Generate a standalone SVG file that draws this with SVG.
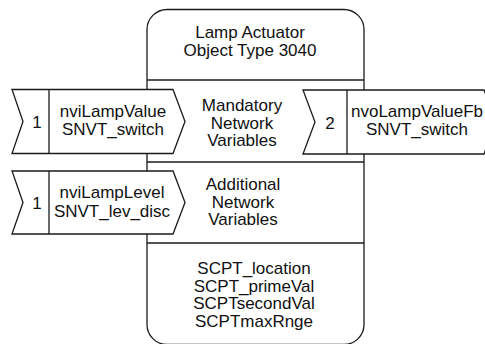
<svg xmlns="http://www.w3.org/2000/svg" width="485" height="344" viewBox="0 0 485 344">
<style>
.ln{fill:none;stroke:#1a1a1a;stroke-width:1.3}
.fl{fill:#fff;stroke:#1a1a1a;stroke-width:1.3;stroke-linejoin:miter}
text{font-family:"Liberation Sans",Arial,sans-serif;font-size:17px;fill:#111;text-anchor:middle}
</style>
<g id="object">
<rect class="ln" x="147" y="9.5" width="217" height="335" rx="20" ry="20" fill="#fff"/>
<line class="ln" x1="147" y1="80" x2="364" y2="80"/>
<line class="ln" x1="147" y1="162" x2="364" y2="162"/>
<line class="ln" x1="147" y1="243" x2="364" y2="243"/>
<text x="250" y="37.5">Lamp Actuator</text>
<text x="250" y="56">Object Type 3040</text>
</g>
<g id="mandatory">
<text x="242" y="111">Mandatory</text>
<text x="242" y="128.5">Network</text>
<text x="242" y="146">Variables</text>
</g>
<g id="additional">
<text x="243" y="190">Additional</text>
<text x="243" y="207.5">Network</text>
<text x="243" y="225">Variables</text>
</g>
<g id="config">
<text x="254" y="274">SCPT_location</text>
<text x="254" y="291.5">SCPT_primeVal</text>
<text x="254" y="309">SCPTsecondVal</text>
<text x="254" y="326.5">SCPTmaxRnge</text>
</g>
<g id="nviLampValue">
<polygon class="fl" points="12,89.5 173,89.5 185,121.5 173,153.5 12,153.5 23,121.5"/>
<line class="ln" x1="49" y1="89.5" x2="49" y2="153.5"/>
<text x="37" y="127.5">1</text>
<text x="113" y="116.5">nviLampValue</text>
<text x="113" y="134.5">SNVT_switch</text>
</g>
<g id="nvoLampValueFb">
<polygon class="fl" points="303,90 484,90 496,122 484,154 303,154 315,122"/>
<line class="ln" x1="347" y1="90" x2="347" y2="154"/>
<text x="330" y="128.5">2</text>
<text x="417" y="117">nvoLampValueFb</text>
<text x="417" y="135">SNVT_switch</text>
</g>
<g id="nviLampLevel">
<polygon class="fl" points="12,171 173,171 185,202.5 173,234 12,234 23,202.5"/>
<line class="ln" x1="49" y1="171" x2="49" y2="234"/>
<text x="37" y="208.5">1</text>
<text x="112" y="198">nviLampLevel</text>
<text x="112" y="216.5">SNVT_lev_disc</text>
</g>
</svg>
